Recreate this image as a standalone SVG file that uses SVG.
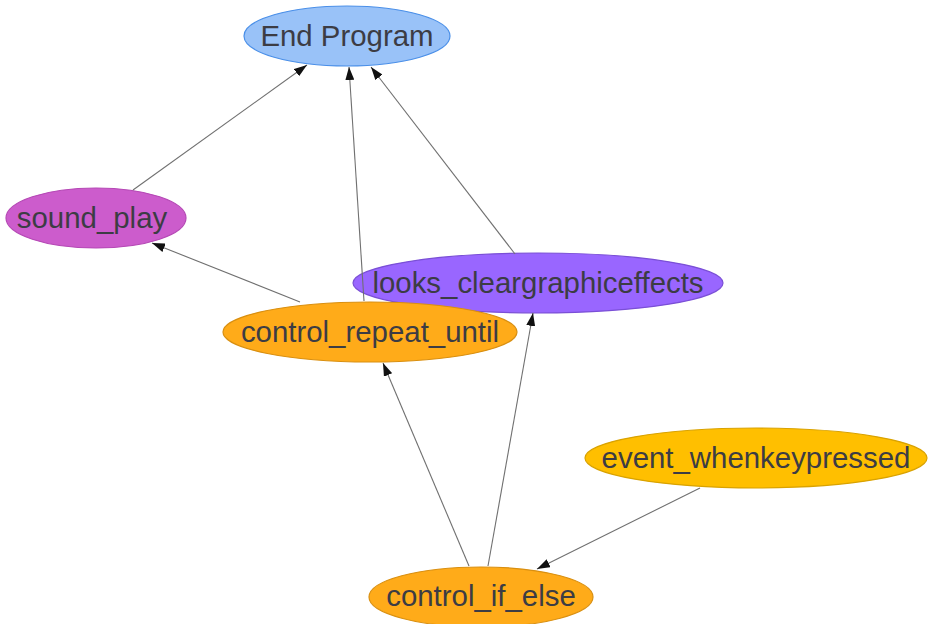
<svg xmlns="http://www.w3.org/2000/svg" width="929" height="624" viewBox="0 0 929 624">
  <style>
    .node ellipse { stroke-width: 1.2; }
    .node text { font-family: "Liberation Sans", Arial, Helvetica, sans-serif; font-size: 29.4px; fill: #3c3c44; text-anchor: middle; }
    .edge { stroke: #707070; stroke-width: 1.1; fill: none; marker-end: url(#arrow); }
  </style>
  <defs>
    <marker id="arrow" viewBox="0 0 13 9" refX="13" refY="4.5" markerWidth="13" markerHeight="9" markerUnits="userSpaceOnUse" orient="auto">
      <path d="M0,0 L13,4.5 L0,9 Z" fill="#111"/>
    </marker>
  </defs>
  <rect width="929" height="624" fill="#ffffff"/>

  <g id="end_program" class="node">
    <ellipse cx="347" cy="36" rx="103" ry="30" fill="#99c2f8" stroke="#4a8fe8"/>
    <text x="347" y="46">End Program</text>
  </g>
  <g id="sound_play" class="node">
    <ellipse cx="96" cy="218" rx="90" ry="30" fill="#cc5ccc" stroke="#b548b5"/>
    <text x="92" y="228">sound_play</text>
  </g>
  <g id="looks_cleargraphiceffects" class="node">
    <ellipse cx="538" cy="283" rx="185" ry="30" fill="#9966ff" stroke="#7a4fd6"/>
    <text x="538" y="293">looks_cleargraphiceffects</text>
  </g>
  <g id="control_repeat_until" class="node">
    <ellipse cx="370" cy="332" rx="147" ry="30" fill="#ffab19" stroke="#d98f10"/>
    <text x="370" y="342">control_repeat_until</text>
  </g>
  <g id="event_whenkeypressed" class="node">
    <ellipse cx="756" cy="458" rx="171" ry="30" fill="#ffbf00" stroke="#d9a200"/>
    <text x="756" y="468">event_whenkeypressed</text>
  </g>
  <g id="control_if_else" class="node">
    <ellipse cx="481" cy="597" rx="112" ry="30" fill="#ffab19" stroke="#d98f10"/>
    <text x="481" y="606">control_if_else</text>
  </g>

  <g id="connectors">
    <line class="edge" x1="133" y1="190" x2="307" y2="65"/>
    <line class="edge" x1="364" y1="301" x2="349" y2="67"/>
    <line class="edge" x1="515" y1="254" x2="371" y2="67"/>
    <line class="edge" x1="300" y1="302" x2="152" y2="243"/>
    <line class="edge" x1="469" y1="566" x2="383" y2="363"/>
    <line class="edge" x1="488" y1="566" x2="533" y2="313"/>
    <line class="edge" x1="700" y1="488" x2="537" y2="569"/>
  </g>
</svg>
